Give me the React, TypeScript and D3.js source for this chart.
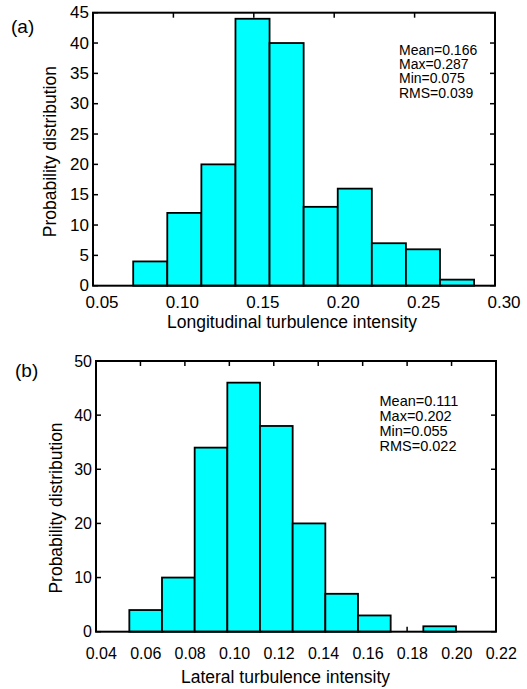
import React from "react";
import * as d3 from "d3";

// ---------- data ----------
const longEdges = [0.075, 0.0962, 0.1174, 0.1386, 0.1598, 0.181, 0.2022, 0.2234, 0.2446, 0.2658, 0.287];
const longCounts = [4, 12, 20, 44, 40, 13, 16, 7, 6, 1];
const longXTicks = [0.05, 0.1, 0.15, 0.2, 0.25, 0.3];
const longYTicks = [0, 5, 10, 15, 20, 25, 30, 35, 40, 45];
const longStats = ["Mean=0.166", "Max=0.287", "Min=0.075", "RMS=0.039"];

const latEdges = [0.055, 0.0697, 0.0844, 0.0991, 0.1138, 0.1285, 0.1432, 0.1579, 0.1726, 0.1873, 0.202];
const latCounts = [4, 10, 34, 46, 38, 20, 7, 3, 0, 1];
const latXTicks = [0.04, 0.06, 0.08, 0.1, 0.12, 0.14, 0.16, 0.18, 0.2, 0.22];
const latYTicks = [0, 10, 20, 30, 40, 50];
const latStats = ["Mean=0.111", "Max=0.202", "Min=0.055", "RMS=0.022"];

const FONT = "'Liberation Sans', Arial, Helvetica, sans-serif";

type PanelProps = {
  edges: number[];
  counts: number[];
  xTicks: number[];
  yTicks: number[];
  stats: string[];
  xDomain: [number, number];
  yDomain: [number, number];
  left: number;
  right: number;
  top: number;
  bottom: number;
  tag: string;
  tagX: number;
  tagY: number;
  xLabel: string;
  xLabelX: number;
  xLabelY: number;
  yLabelX: number;
  yLabelY: number;
  tickFont: number;
  tickDx: number;
  tickBaseline: number;
  statsX: number;
  statsY: number;
  statsStep: number;
  statsFont: number;
};

function Panel(p: PanelProps) {
  const x = d3.scaleLinear().domain(p.xDomain).range([p.left, p.right]);
  const y = d3.scaleLinear().domain(p.yDomain).range([p.bottom, p.top]);
  const tl = 5;
  const bins = p.counts.map((c, i) => ({ x0: p.edges[i], x1: p.edges[i + 1], c }));
  return (
    <g>
      {/* ticks (inward, all sides) */}
      {p.xTicks.map((t) => (
        <g key={"xt" + t}>
          <line x1={x(t)} x2={x(t)} y1={p.bottom} y2={p.bottom - tl} stroke="#000" strokeWidth={1.5} />
          <line x1={x(t)} x2={x(t)} y1={p.top} y2={p.top + tl} stroke="#000" strokeWidth={1.5} />
          <text
            x={x(t) + p.tickDx}
            y={p.tickBaseline}
            textAnchor="middle"
            fontFamily={FONT}
            fontSize={p.tickFont}
            fill="#000"
          >
            {d3.format(".2f")(t)}
          </text>
        </g>
      ))}
      {p.yTicks.map((t) => (
        <g key={"yt" + t}>
          <line x1={p.left} x2={p.left + tl} y1={y(t)} y2={y(t)} stroke="#000" strokeWidth={1.5} />
          <line x1={p.right} x2={p.right - tl} y1={y(t)} y2={y(t)} stroke="#000" strokeWidth={1.5} />
          <text
            x={p.left - 4}
            y={y(t)}
            textAnchor="end"
            dominantBaseline="central"
            fontFamily={FONT}
            fontSize={p.tickFont}
            fill="#000"
          >
            {t}
          </text>
        </g>
      ))}
      {/* bars */}
      {bins
        .filter((b) => b.c > 0)
        .map((b, i) => (
          <rect
            key={"b" + i}
            x={x(b.x0)}
            y={y(b.c)}
            width={x(b.x1) - x(b.x0)}
            height={y(0) - y(b.c)}
            fill="#00ffff"
            stroke="#000"
            strokeWidth={1.8}
          />
        ))}
      {/* box */}
      <rect
        x={p.left}
        y={p.top}
        width={p.right - p.left}
        height={p.bottom - p.top}
        fill="none"
        stroke="#000"
        strokeWidth={2}
      />
      {/* stats */}
      {p.stats.map((s, i) => (
        <text
          key={"s" + i}
          x={p.statsX}
          y={p.statsY + i * p.statsStep}
          fontFamily={FONT}
          fontSize={p.statsFont}
          fill="#000"
        >
          {s}
        </text>
      ))}
      {/* labels */}
      <text x={p.xLabelX} y={p.xLabelY} textAnchor="middle" fontFamily={FONT} fontSize={17.5} fill="#000">
        {p.xLabel}
      </text>
      <text
        transform={`translate(${p.yLabelX},${p.yLabelY}) rotate(-90)`}
        textAnchor="middle"
        fontFamily={FONT}
        fontSize={17.5}
        fill="#000"
      >
        Probability distribution
      </text>
      <text x={p.tagX} y={p.tagY} fontFamily={FONT} fontSize={19} fill="#000">
        {p.tag}
      </text>
    </g>
  );
}

export default function App() {
  return (
    <svg
      width={527}
      height={689}
      style={{ position: "absolute", left: 0, top: 0, background: "#fff" }}
    >
      <rect x={0} y={0} width={527} height={689} fill="#fff" />
      <Panel
        edges={longEdges}
        counts={longCounts}
        xTicks={longXTicks}
        yTicks={longYTicks}
        stats={longStats}
        xDomain={[0.05, 0.3]}
        yDomain={[0, 45]}
        left={93}
        right={495}
        top={12.7}
        bottom={285.7}
        tag="(a)"
        tagX={11}
        tagY={32.5}
        xLabel="Longitudinal turbulence intensity"
        xLabelX={292}
        xLabelY={328}
        yLabelX={56}
        yLabelY={151.7}
        tickFont={17}
        tickDx={9}
        tickBaseline={308.3}
        statsX={399}
        statsY={55}
        statsStep={14.2}
        statsFont={14}
      />
      <Panel
        edges={latEdges}
        counts={latCounts}
        xTicks={latXTicks}
        yTicks={latYTicks}
        stats={latStats}
        xDomain={[0.04, 0.22]}
        yDomain={[0, 50]}
        left={96}
        right={496}
        top={361}
        bottom={631.7}
        tag="(b)"
        tagX={15}
        tagY={377}
        xLabel="Lateral turbulence intensity"
        xLabelX={285.5}
        xLabelY={683}
        yLabelX={62}
        yLabelY={508}
        tickFont={16}
        tickDx={5.3}
        tickBaseline={659.3}
        statsX={379.5}
        statsY={406}
        statsStep={15}
        statsFont={14.5}
      />
    </svg>
  );
}
